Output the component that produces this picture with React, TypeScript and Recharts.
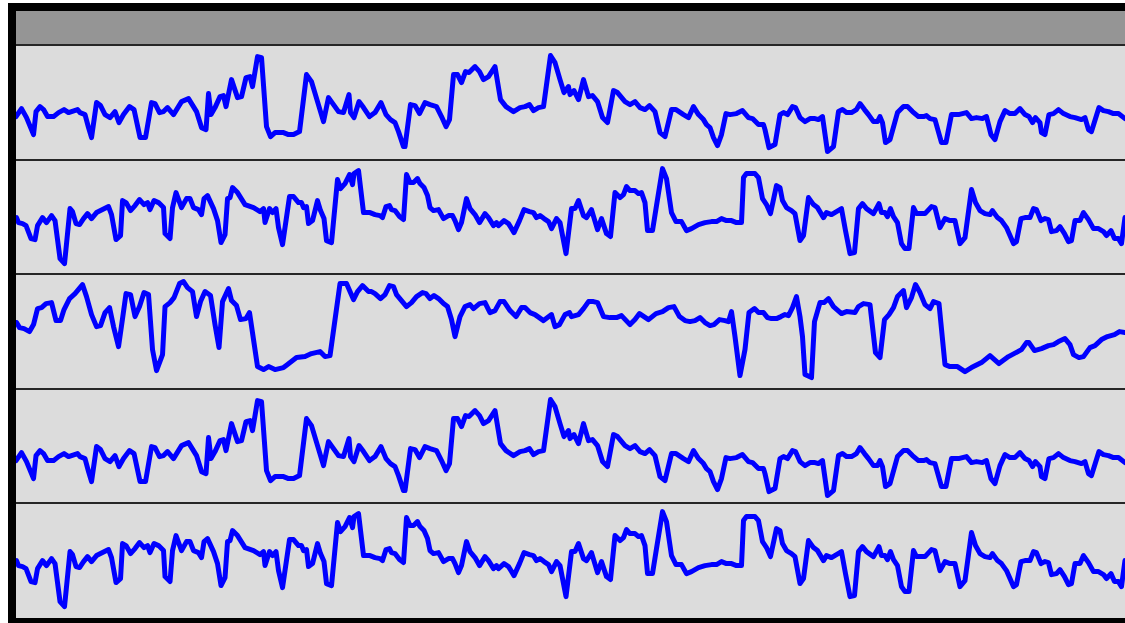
import React from 'react';
import { LineChart, Line, XAxis, YAxis } from 'recharts';

// time axis (hours) and value range shared by all panels
const T_DOMAIN: [number, number] = [0, 222];
const V_DOMAIN: [number, number] = [0, 114.6];

// series A (panels 1 and 4): [time, value]
const seriesA: [number, number][] = [
  [0, 43], [1.1, 51], [2.1, 42], [3.5, 25], [4.0, 48], [4.8, 53], [5.5, 50], [6.3, 43], [7.5, 43], [8.5, 47],
  [9.6, 50], [10.5, 47], [11.1, 48], [12.3, 50], [12.8, 47], [13.8, 45], [14.5, 32], [15.1, 22], [16.1, 57], [16.9, 54],
  [17.8, 45], [18.8, 42], [19.8, 48], [20.6, 37], [21.5, 45], [22.7, 53], [23.6, 50], [24.8, 22], [25.9, 22], [27.1, 57],
  [27.8, 56], [28.7, 47], [29.5, 48], [30.3, 52], [31.5, 45], [33.1, 58], [34.5, 61], [36.1, 48], [37.1, 32], [38.0, 30],
  [38.5, 66], [39.0, 45], [39.8, 52], [40.8, 63], [41.5, 64], [42.0, 53], [43.1, 80], [44.3, 62], [45.1, 63], [46.0, 82],
  [46.8, 83], [47.3, 73], [48.3, 103], [49.1, 102], [50.1, 33], [50.9, 23], [51.8, 27], [53.5, 27], [54.5, 25], [55.5, 25],
  [56.7, 28], [58.1, 85], [59.1, 78], [61.5, 38], [62.5, 62], [63.5, 55], [64.5, 48], [65.5, 47], [66.6, 65], [66.9, 47],
  [67.6, 42], [68.6, 58], [69.5, 52], [70.7, 43], [71.8, 47], [73.0, 57], [74.0, 45], [74.9, 40], [75.8, 37], [76.5, 28],
  [77.5, 13], [77.8, 13], [78.9, 55], [79.8, 54], [80.7, 46], [81.8, 57], [82.8, 55], [84.1, 53], [85.1, 43], [86.0, 33],
  [86.7, 40], [87.5, 85], [88.3, 85], [89.1, 77], [89.9, 88], [90.6, 87], [91.8, 93], [92.7, 88], [93.5, 80], [94.5, 83],
  [95.8, 93], [96.9, 60], [98.0, 53], [99.5, 48], [100.8, 52], [101.8, 53], [102.7, 55], [103.5, 49], [104.5, 52], [105.5, 53],
  [106.9, 104], [107.8, 97], [108.8, 80], [109.6, 67], [110.5, 73], [110.8, 65], [111.6, 69], [112.5, 60], [113.5, 80], [114.5, 63],
  [115.3, 64], [116.3, 58], [117.3, 42], [118.3, 37], [119.5, 69], [120.3, 67], [121.8, 58], [122.8, 55], [123.8, 58], [124.8, 52],
  [125.8, 50], [126.7, 54], [127.8, 48], [128.8, 27], [129.8, 23], [131.1, 50], [132.0, 50], [133.5, 45], [134.5, 42], [135.5, 53],
  [136.5, 45], [137.5, 40], [138.1, 35], [138.8, 32], [139.5, 22], [140.3, 14], [141.1, 25], [142.0, 46], [142.8, 45], [144.1, 46],
  [145.3, 49], [146.5, 42], [147.3, 41], [148.5, 35], [149.5, 35], [149.8, 30], [150.6, 12], [151.8, 15], [152.8, 45], [153.5, 47],
  [154.3, 45], [155.3, 53], [155.9, 52], [156.8, 42], [157.8, 38], [158.8, 41], [159.8, 41], [160.5, 40], [161.3, 43], [162.3, 8],
  [163.5, 13], [164.5, 48], [165.3, 50], [166.1, 47], [167.1, 47], [168.1, 50], [168.8, 56], [169.7, 50], [170.5, 45], [171.5, 38],
  [172.3, 38], [172.8, 43], [173.3, 37], [173.9, 17], [174.8, 20], [176.3, 47], [177.5, 53], [178.3, 53], [179.3, 48], [180.5, 43],
  [181.5, 43], [182.1, 44], [182.8, 41], [183.8, 40], [185.1, 17], [186.0, 17], [187.1, 45], [188.5, 45], [190.1, 47], [191.1, 41],
  [192.1, 42], [193.3, 41], [194.1, 43], [195.0, 25], [195.8, 20], [196.8, 38], [197.8, 49], [198.8, 46], [199.8, 46], [200.8, 51],
  [201.8, 45], [202.6, 43], [203.3, 37], [203.9, 42], [204.8, 37], [205.1, 27], [205.8, 25], [206.6, 45], [207.5, 46], [208.5, 50],
  [209.5, 46], [210.8, 43], [211.8, 42], [213.1, 40], [213.8, 42], [214.5, 30], [215.1, 28], [216.6, 52], [217.5, 49], [218.5, 48],
  [219.5, 46], [220.5, 46], [221.8, 41],
];

// series B (panels 2 and 5)
const seriesB: [number, number][] = [
  [0.1, 57], [0.5, 52], [1.3, 51], [2.0, 49], [3.0, 36], [3.8, 35], [4.3, 49], [5.3, 57], [6.1, 52], [7.1, 59],
  [7.8, 54], [8.8, 16], [9.7, 11], [10.8, 66], [11.3, 63], [12.0, 51], [12.7, 50], [13.5, 56], [14.3, 61], [15.1, 56],
  [16.1, 62], [18.5, 68], [19.1, 60], [20.0, 35], [20.9, 39], [21.3, 74], [22.0, 72], [22.9, 64], [23.8, 69], [24.7, 75],
  [25.6, 70], [26.3, 72], [26.8, 65], [27.6, 74], [28.5, 72], [29.5, 67], [29.8, 41], [30.8, 36], [31.3, 67], [32.0, 82],
  [33.1, 67], [34.1, 76], [34.8, 76], [35.5, 67], [36.5, 65], [37.1, 60], [37.6, 76], [38.3, 79], [39.5, 66], [40.3, 54],
  [41.0, 32], [41.8, 40], [42.3, 76], [42.8, 77], [43.3, 87], [44.3, 82], [45.8, 70], [47.5, 67], [48.8, 63], [49.5, 66],
  [49.8, 52], [50.7, 66], [51.3, 62], [52.0, 66], [52.5, 47], [53.3, 30], [54.7, 78], [55.5, 78], [56.5, 72], [57.1, 72],
  [57.5, 67], [58.1, 68], [58.5, 51], [59.3, 54], [60.3, 74], [60.9, 64], [61.6, 56], [62.1, 34], [63.1, 32], [64.3, 95],
  [64.9, 86], [65.8, 91], [66.7, 100], [67.3, 90], [67.6, 101], [68.5, 104], [69.5, 62], [70.8, 62], [71.8, 60], [72.8, 59],
  [73.3, 57], [74.0, 68], [74.7, 69], [75.1, 65], [75.8, 64], [76.7, 58], [77.5, 55], [78.1, 100], [78.8, 92], [79.5, 92],
  [80.3, 96], [80.8, 91], [81.6, 87], [82.3, 79], [82.8, 67], [83.5, 64], [84.5, 65], [85.5, 56], [86.5, 59], [87.3, 59],
  [87.8, 54], [88.5, 45], [89.1, 52], [90.1, 76], [90.8, 66], [91.8, 60], [92.7, 52], [93.8, 61], [94.5, 57], [95.5, 49],
  [96.1, 52], [96.5, 49], [97.6, 54], [98.5, 51], [99.6, 42], [100.7, 54], [101.6, 65], [102.7, 63], [103.5, 62], [104.1, 57],
  [104.8, 59], [105.6, 56], [106.5, 53], [107.1, 46], [108.1, 56], [108.8, 52], [110.0, 21], [111.1, 66], [111.8, 66], [112.5, 74],
  [113.5, 59], [114.1, 57], [115.1, 65], [116.3, 45], [117.1, 56], [118.1, 41], [118.9, 38], [119.8, 82], [120.8, 77], [121.5, 80],
  [122.1, 88], [122.8, 84], [123.8, 84], [124.5, 81], [125.1, 82], [125.8, 72], [126.3, 44], [127.3, 44], [128.1, 69], [129.3, 106],
  [130.1, 96], [131.1, 62], [132.0, 53], [133.1, 53], [134.1, 44], [135.1, 46], [136.5, 50], [137.8, 52], [139.1, 53], [140.1, 53],
  [141.1, 56], [142.1, 54], [143.1, 54], [144.1, 52], [145.1, 52], [145.5, 97], [146.1, 101], [147.8, 101], [148.5, 97], [149.3, 76],
  [150.1, 70], [150.9, 61], [152.1, 89], [152.8, 87], [153.3, 74], [154.1, 67], [155.1, 64], [155.8, 61], [156.8, 34], [157.5, 39],
  [158.5, 77], [159.5, 70], [160.3, 67], [161.5, 57], [162.1, 62], [163.1, 60], [164.1, 63], [165.1, 66], [165.9, 44], [166.8, 21],
  [167.7, 22], [168.5, 66], [169.3, 71], [170.1, 66], [171.5, 61], [172.6, 71], [173.1, 62], [173.8, 62], [174.3, 58], [174.9, 66],
  [175.5, 58], [176.3, 52], [177.1, 31], [177.8, 26], [178.6, 26], [179.5, 67], [180.1, 61], [181.8, 61], [183.1, 68], [183.8, 67],
  [184.8, 47], [185.8, 56], [186.8, 54], [187.8, 54], [188.8, 31], [189.8, 37], [191.1, 85], [191.9, 72], [192.8, 64], [193.8, 61],
  [194.8, 60], [195.3, 64], [196.3, 57], [197.1, 54], [198.1, 47], [199.5, 31], [200.1, 33], [201.0, 56], [201.8, 57], [202.8, 57],
  [203.5, 66], [204.1, 65], [205.0, 54], [205.8, 56], [206.5, 55], [207.1, 43], [208.1, 44], [208.8, 48], [209.7, 41], [210.5, 33],
  [211.1, 34], [211.8, 54], [212.8, 54], [213.5, 62], [214.5, 55], [215.5, 46], [216.5, 46], [217.5, 43], [218.1, 39], [219.0, 44],
  [219.7, 36], [220.5, 36], [221.1, 31], [221.8, 57],
];

// series C (panel 3)
const seriesC: [number, number][] = [
  [0.1, 66], [0.7, 61], [1.6, 60], [2.7, 57], [3.5, 64], [4.3, 80], [5.1, 81], [6.0, 85], [7.1, 86], [8.0, 68],
  [8.9, 68], [9.6, 79], [10.7, 90], [11.8, 95], [13.3, 104], [14.1, 92], [15.1, 74], [16.1, 62], [16.9, 63], [17.8, 76],
  [18.7, 81], [19.5, 62], [20.5, 42], [21.3, 70], [22.0, 95], [22.9, 94], [23.8, 72], [24.7, 82], [25.6, 96], [26.5, 94],
  [27.3, 39], [28.1, 18], [29.3, 34], [29.8, 82], [30.8, 86], [31.6, 91], [32.7, 105], [33.5, 107], [34.3, 101], [35.3, 97],
  [36.1, 72], [36.9, 87], [37.8, 97], [38.9, 93], [39.8, 64], [40.6, 41], [41.3, 87], [42.5, 100], [43.1, 88], [44.1, 83],
  [44.9, 69], [46.0, 70], [46.7, 76], [48.3, 22], [49.5, 19], [50.5, 22], [51.8, 19], [53.5, 21], [54.3, 24], [56.1, 31],
  [57.8, 32], [59.1, 35], [60.8, 37], [61.8, 32], [62.8, 33], [64.8, 105], [66.1, 105], [67.5, 89], [68.3, 97], [69.3, 103],
  [70.5, 97], [71.1, 97], [71.8, 95], [72.9, 90], [73.8, 94], [74.7, 103], [75.5, 102], [76.1, 94], [77.1, 88], [78.1, 82],
  [79.1, 86], [80.1, 92], [81.3, 96], [82.0, 95], [82.8, 90], [83.6, 93], [84.5, 90], [85.5, 85], [86.3, 82], [87.1, 69],
  [87.8, 52], [88.8, 72], [89.8, 82], [90.8, 84], [91.5, 80], [92.7, 85], [93.8, 86], [94.8, 76], [95.8, 78], [96.8, 87],
  [97.6, 87], [98.8, 78], [100.0, 72], [101.1, 81], [101.8, 81], [102.8, 76], [103.8, 74], [105.5, 68], [107.1, 74], [107.8, 62],
  [108.7, 64], [109.8, 74], [110.7, 76], [111.1, 72], [112.5, 74], [113.5, 80], [114.5, 87], [115.5, 87], [116.3, 86], [117.5, 72],
  [118.8, 71], [120.1, 71], [121.1, 73], [122.8, 64], [123.8, 69], [124.7, 75], [126.5, 69], [128.0, 75], [129.3, 77], [130.5, 81],
  [131.6, 82], [132.7, 72], [133.8, 68], [134.8, 67], [135.8, 68], [136.8, 71], [137.8, 66], [138.8, 63], [139.6, 64], [140.7, 69],
  [141.8, 68], [142.5, 67], [143.1, 77], [143.8, 52], [144.8, 13], [145.8, 39], [146.6, 76], [147.7, 80], [148.5, 76], [149.5, 76],
  [150.3, 71], [151.1, 70], [152.1, 70], [153.0, 72], [153.8, 74], [154.5, 73], [155.3, 81], [156.1, 92], [156.8, 72], [157.3, 52],
  [157.8, 14], [159.1, 11], [159.7, 67], [160.8, 86], [161.6, 86], [162.5, 90], [163.5, 82], [165.1, 75], [166.1, 77], [167.8, 76],
  [168.5, 82], [169.5, 85], [170.8, 84], [171.9, 36], [172.8, 31], [173.7, 69], [174.6, 74], [175.5, 81], [176.3, 92], [177.5, 98],
  [178.1, 81], [179.1, 91], [179.9, 104], [180.8, 96], [181.8, 84], [182.8, 80], [183.5, 87], [184.6, 85], [185.8, 24], [186.8, 22],
  [188.3, 22], [189.8, 17], [191.1, 21], [193.1, 26], [194.8, 33], [196.6, 25], [198.5, 32], [201.1, 39], [202.1, 46], [202.6, 46],
  [203.7, 38], [205.1, 40], [206.5, 43], [207.5, 44], [208.5, 47], [209.8, 50], [210.8, 44], [211.5, 34], [212.6, 31], [213.5, 32],
  [214.8, 41], [215.8, 43], [217.1, 49], [218.3, 52], [219.7, 54], [220.7, 57], [221.8, 56],
];

const panelSeries = [seriesA, seriesB, seriesC, seriesA, seriesB];

const toRows = (s: [number, number][]) => s.map(([t, v]) => ({ t, v }));

const PANEL_TOP = 42; // inside frame
const PANEL_H = 114.6;
const CHART_W = 1110;

function Panel({ series, top }: { series: [number, number][]; top: number }) {
  return (
    <div style={{ position: 'absolute', left: 8, top, width: CHART_W, height: PANEL_H, background: '#dcdcdc' }}>
      <LineChart width={CHART_W} height={PANEL_H} data={toRows(series)} margin={{ top: 0, right: 0, bottom: 0, left: 0 }}>
        <XAxis dataKey="t" type="number" domain={T_DOMAIN} hide />
        <YAxis type="number" domain={V_DOMAIN} hide />
        <Line
          type="linear"
          dataKey="v"
          stroke="#0000ff"
          strokeWidth={5}
          strokeLinejoin="round"
          strokeLinecap="round"
          dot={false}
          isAnimationActive={false}
        />
      </LineChart>
    </div>
  );
}

export default function App() {
  return (
    <div
      style={{
        position: 'absolute',
        left: 8,
        top: 3,
        width: 1117,
        height: 620,
        overflow: 'hidden',
        background: '#000',
      }}
    >
      <div style={{ position: 'absolute', left: 8, top: 8, width: CHART_W, height: 34, background: '#959595' }} />
      {panelSeries.map((s, i) => (
        <Panel key={i} series={s} top={PANEL_TOP + i * PANEL_H} />
      ))}
      {panelSeries.map((_, i) => (
        <div
          key={'sep' + i}
          style={{
            position: 'absolute',
            left: 8,
            top: PANEL_TOP + i * PANEL_H - 1,
            width: CHART_W,
            height: 2,
            background: '#262626',
          }}
        />
      ))}
    </div>
  );
}
